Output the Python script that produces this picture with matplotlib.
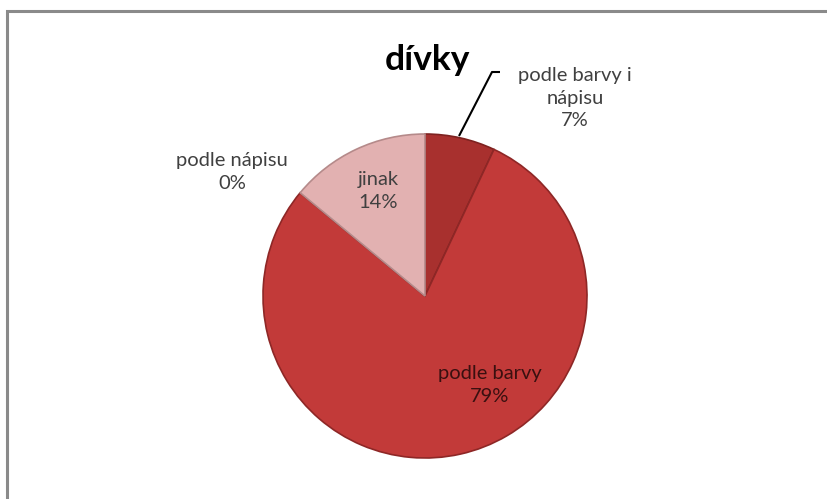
import matplotlib
matplotlib.use("Agg")
import matplotlib.pyplot as plt
from matplotlib.patches import Rectangle

plt.rcParams['font.family'] = ['Lato', 'DejaVu Sans']

title = "dívky"
categories = ["podle barvy i\nnápisu", "podle barvy", "podle nápisu", "jinak"]
values = [7, 79, 0, 14]
colors = ["#a8302e", "#c23a39", "#c23a39", "#e2b1b1"]
edge_colors = ["#7e2220", "#8e2726", "#8e2726", "#b58a8a"]

W, H = 827, 499
fig = plt.figure(figsize=(W / 100, H / 100), dpi=100)
ax = fig.add_axes([0, 0, 1, 1])

# chart frame
ax.add_patch(Rectangle((7, -10), W, H - 11 + 10, fill=False,
                       edgecolor="#8a8a8a", linewidth=2.2, zorder=0))

cx, cy, r = 425, H - 296, 162
wedges, _ = ax.pie(values, colors=colors, startangle=90, counterclock=False,
                   radius=r, center=(cx, cy), frame=True,
                   wedgeprops=dict(linewidth=1.2))
for w, ec in zip(wedges, edge_colors):
    w.set_edgecolor(ec)
ax.set_xlim(0, W)
ax.set_ylim(0, H)
ax.set_aspect('equal')
ax.axis('off')

fs = 14.5
labels = [f"{c}\n{v}%" for c, v in zip(categories, values)]
positions = [(575, H - 98), (490, H - 385), (232, H - 172), (378, H - 191)]
txt_colors = ["#404040", "#3a1010", "#404040", "#404040"]
for lab, (x, y), tc in zip(labels, positions, txt_colors):
    ax.text(x, y, lab, ha='center', va='center', fontsize=fs, color=tc,
            linespacing=1.4)

# leader line for the small slice
ax.plot([459, 492, 500], [H - 136, H - 72, H - 72], color="black",
        linewidth=1.5, solid_capstyle='butt')

ax.text(427, H - 60, title, ha='center', va='center', fontsize=25.5,
        fontweight='bold', color='black')

fig.savefig("out.png", dpi=100, facecolor='white')
